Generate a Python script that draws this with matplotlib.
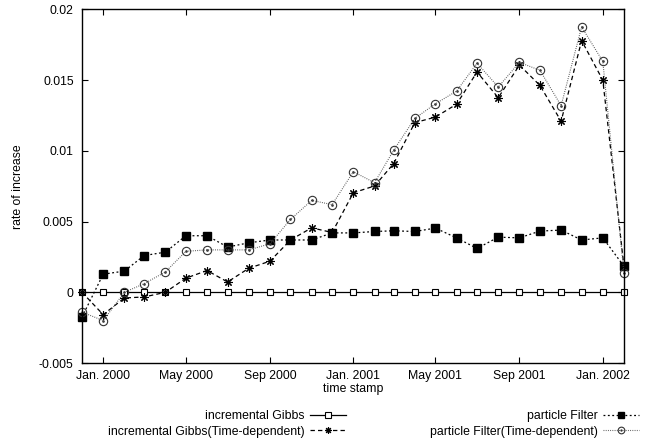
import datetime as dt
import matplotlib
matplotlib.use("Agg")
import matplotlib.pyplot as plt
from matplotlib.path import Path

plt.rcParams['font.family'] = ['Liberation Sans', 'DejaVu Sans']
plt.rcParams['font.size'] = 8.8

# monthly time stamps, Dec 1999 .. Feb 2002
months = ['1999-12', '2000-01', '2000-02', '2000-03', '2000-04', '2000-05', '2000-06',
          '2000-07', '2000-08', '2000-09', '2000-10', '2000-11', '2000-12', '2001-01',
          '2001-02', '2001-03', '2001-04', '2001-05', '2001-06', '2001-07', '2001-08',
          '2001-09', '2001-10', '2001-11', '2001-12', '2002-01', '2002-02']

gibbs = [0, 0, 0, 0, 0, 0, 0, 0, 0, 0, 0, 0, 0, 0,
         0, 0, 0, 0, 0, 0, 0, 0, 0, 0, 0, 0, 0]
gibbs_td = [0, -0.00158, -0.0004, -0.00033, 0, 0.001, 0.00154, 0.00073, 0.0017,
            0.0022, 0.0037, 0.00456, 0.00423, 0.00704, 0.00752, 0.0091, 0.012,
            0.01239, 0.0133, 0.01558, 0.01376, 0.01607, 0.01463, 0.0121, 0.0178,
            0.015, 0.0018]
pf = [-0.00175, 0.00128, 0.0015, 0.0026, 0.00284, 0.004, 0.004, 0.0032, 0.0035,
      0.0037, 0.0037, 0.0037, 0.0042, 0.0042, 0.0043, 0.00435, 0.0043, 0.00454,
      0.00385, 0.0031, 0.0039, 0.00385, 0.00433, 0.0044, 0.0037, 0.00385, 0.00184]
pf_td = [-0.0014, -0.002, 0, 0.00061, 0.00144, 0.0029, 0.003, 0.003, 0.003,
         0.00343, 0.00515, 0.0065, 0.0062, 0.00853, 0.00775, 0.01005, 0.0123,
         0.01333, 0.01423, 0.0162, 0.01452, 0.01626, 0.0157, 0.0132, 0.01877,
         0.01633, 0.00133]

labels = ['incremental Gibbs', 'incremental Gibbs(Time-dependent)',
          'particle Filter', 'particle Filter(Time-dependent)']
tick_months = ['2000-01', '2000-05', '2000-09', '2001-01', '2001-05', '2001-09', '2002-01']
tick_labels = ['Jan. 2000', 'May 2000', 'Sep 2000', 'Jan. 2001', 'May 2001', 'Sep 2001', 'Jan. 2002']

x = [dt.datetime.strptime(m, '%Y-%m') for m in months]

fig = plt.figure(figsize=(6.49, 4.40), dpi=100)
ax = fig.add_axes([82 / 649, 1 - 363 / 440, 542 / 649, 353.5 / 440])

# circle with a dot in the middle (gnuplot point type 6 look)
odot = Path.make_compound_path(Path.circle((0, 0), 1.0), Path.circle((0, 0), 0.18))

l1, = ax.plot(x, gibbs, color='black', lw=0.9, marker='s', ms=5,
              mfc='white', mec='black', mew=0.8, clip_on=False, label=labels[0])
l2, = ax.plot(x, gibbs_td, color='black', lw=0.9, ls=(0, (3.5, 2.5)), marker=(8, 2, 0),
              ms=6, mew=0.8, clip_on=False, label=labels[1])
l3, = ax.plot(x, pf, color='black', lw=0.9, ls=(0, (1.5, 2)), marker='s', ms=5.5,
              mfc='black', mec='black', clip_on=False, label=labels[2])
l4, = ax.plot(x, pf_td, color='#555555', lw=0.8, ls=(0, (0.8, 1.2)), marker=odot,
              ms=6, mfc='none', mec='#333333', mew=0.8, clip_on=False, label=labels[3])

ax.set_xlim(dt.datetime(1999, 12, 1), dt.datetime(2002, 2, 1))
ax.set_ylim(-0.005, 0.02)
ax.set_xticks([dt.datetime.strptime(m, '%Y-%m') for m in tick_months])
ax.set_xticklabels(tick_labels)
ax.set_yticks([-0.005, 0, 0.005, 0.01, 0.015, 0.02])
ax.set_yticklabels(['-0.005', '0', '0.005', '0.01', '0.015', '0.02'])
ax.tick_params(direction='in', length=4.5, width=0.8, top=True, right=True)
ax.tick_params(axis='x', pad=5)
ax.tick_params(axis='y', pad=6)
for s in ax.spines.values():
    s.set_linewidth(1.0)

ax.set_xlabel('time stamp', labelpad=1)
ax.set_ylabel('rate of increase', labelpad=11)

ax.legend(handles=[l1, l2, l3, l4], ncol=2, frameon=False, markerfirst=False,
          loc='upper right', bbox_to_anchor=(639 / 649, 1 - 410 / 440),
          bbox_transform=fig.transFigure, borderpad=0, borderaxespad=0,
          handlelength=2.95, handletextpad=0.45, columnspacing=6.8, labelspacing=0.3,
          markerscale=0.8)

fig.savefig('out.png', dpi=100)
